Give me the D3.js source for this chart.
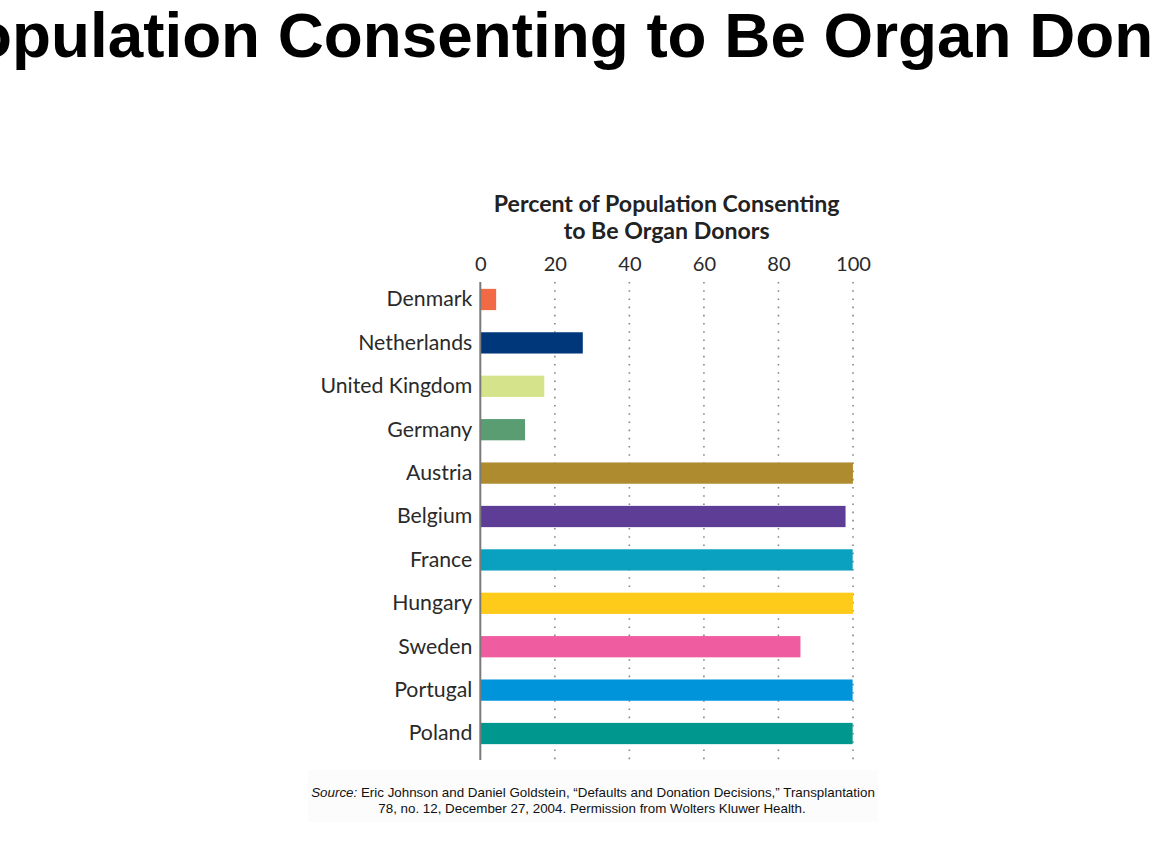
<!DOCTYPE html>
<html>
<head>
<meta charset="utf-8">
<script src="https://cdn.jsdelivr.net/npm/d3@7"></script>
<style>
  html, body { margin: 0; padding: 0; background: #fff; overflow: hidden; }
  svg { display: block; }
</style>
</head>
<body>
<svg id="chart" width="1152" height="864"></svg>
<script>
// ---- data ----
const countries = ["Denmark", "Netherlands", "United Kingdom", "Germany", "Austria", "Belgium",
                   "France", "Hungary", "Sweden", "Portugal", "Poland"];
const consentPct = [4.25, 27.5, 17.17, 12, 99.98, 98, 99.91, 99.997, 85.9, 99.9, 99.9];
const barColors = ["#F26A45", "#00377A", "#D5E38A", "#5A9D73", "#AE8B2E", "#5E3D96",
                   "#0AA0BF", "#FFCB1B", "#EF5CA0", "#0095DA", "#00978F"];
const xTicks = [0, 20, 40, 60, 80, 100];
const pageTitle = "Population Consenting to Be Organ Donors";
const chartTitle = ["Percent of Population Consenting", "to Be Organ Donors"];
const sourceLine1 = " Eric Johnson and Daniel Goldstein, \u201cDefaults and Donation Decisions,\u201d Transplantation";
const sourceLine2 = "78, no. 12, December 27, 2004. Permission from Wolters Kluwer Health.";

const data = countries.map((c, i) => ({ country: c, value: consentPct[i], color: barColors[i] }));

const svg = d3.select("#chart");
const chartFont = "Lato, 'Open Sans', sans-serif";

function fitSize(sel, targetWidth, baseSize) {
  sel.style("font-size", baseSize + "px");
  const w = sel.node().getComputedTextLength();
  const s = baseSize * targetWidth / w;
  sel.style("font-size", s + "px");
  return s;
}

// ---- big page title (overflows the frame, as in the reference) ----
svg.append("text")
  .attr("x", -69.5).attr("y", 57)
  .attr("text-anchor", "start")
  .style("font-family", "'Liberation Sans', Arial, sans-serif")
  .style("font-weight", "bold")
  .style("font-size", "63.8px")
  .style("fill", "#000")
  .text(pageTitle);

// ---- scales ----
const x = d3.scaleLinear().domain([0, 100]).range([480.3, 853]);
const y = d3.scaleBand().domain(countries).range([278, 755]).paddingInner(0.51).paddingOuter(0.25);
const gridTop = 282, gridBottom = 760;

// ---- chart title ----
const tcx = (x(0) + x(100)) / 2;
const t1 = svg.append("text").attr("x", tcx).attr("y", 212).attr("text-anchor", "middle")
  .style("font-family", chartFont).style("font-weight", "bold").style("fill", "#222").text(chartTitle[0]);
const ts = fitSize(t1, 346, 19);
svg.append("text").attr("x", tcx).attr("y", 239).attr("text-anchor", "middle")
  .style("font-family", chartFont).style("font-weight", "bold").style("fill", "#222")
  .style("font-size", ts + "px").text(chartTitle[1]);

// ---- gridlines ----
svg.append("g").selectAll("line").data(xTicks.filter(d => d > 0)).join("line")
  .attr("x1", d => x(d)).attr("x2", d => x(d))
  .attr("y1", gridTop).attr("y2", gridBottom)
  .attr("stroke", "#888").attr("stroke-width", 1.6)
  .attr("stroke-dasharray", "1.6,6.6");

// ---- top axis tick labels ----
const xAxis = d3.axisTop(x).tickValues(xTicks).tickSize(0).tickPadding(0).tickFormat(d3.format("d"));
const gx = svg.append("g").attr("transform", "translate(0,271)").call(xAxis);
gx.select(".domain").remove();
gx.selectAll("text").attr("dy", 0)
  .style("font-family", chartFont).style("fill", "#2a2a2a");
const tickSize = fitSize(gx.selectAll("text").filter(d => d === 100), 35, 20);
gx.selectAll("text").style("font-size", tickSize + "px");

// ---- bars ----
svg.append("g").selectAll("rect").data(data).join("rect")
  .attr("x", x(0)).attr("y", d => y(d.country))
  .attr("width", d => x(d.value) - x(0))
  .attr("height", y.bandwidth())
  .attr("fill", d => d.color);

// ---- left axis line + category labels ----
const yAxis = d3.axisLeft(y).tickSize(0).tickPadding(8);
const gy = svg.append("g").attr("transform", `translate(${x(0)},0)`).call(yAxis);
gy.select(".domain").remove();
gy.selectAll("text")
  .style("font-family", chartFont).style("fill", "#2a2a2a");
const catSize = fitSize(gy.selectAll("text").filter(d => d === "United Kingdom"), 152, 19);
gy.selectAll("text").style("font-size", catSize + "px");

svg.append("line")
  .attr("x1", x(0)).attr("x2", x(0)).attr("y1", gridTop).attr("y2", gridBottom)
  .attr("stroke", "#7a7a7a").attr("stroke-width", 2);

// ---- source ----
svg.append("rect").attr("x", 308).attr("y", 770).attr("width", 570).attr("height", 52)
  .attr("fill", "#fcfcfc");
const srcFont = "'Liberation Sans', Arial, sans-serif";
const s1 = svg.append("text").attr("x", 593).attr("y", 797).attr("text-anchor", "middle")
  .style("font-family", srcFont).style("fill", "#111");
s1.append("tspan").style("font-style", "italic").text("Source:");
s1.append("tspan").text(sourceLine1);
const srcSize = fitSize(s1, 564, 12.5);
svg.append("text").attr("x", 592).attr("y", 813).attr("text-anchor", "middle")
  .style("font-family", srcFont).style("fill", "#111").style("font-size", srcSize + "px")
  .text(sourceLine2);
</script>
</body>
</html>
